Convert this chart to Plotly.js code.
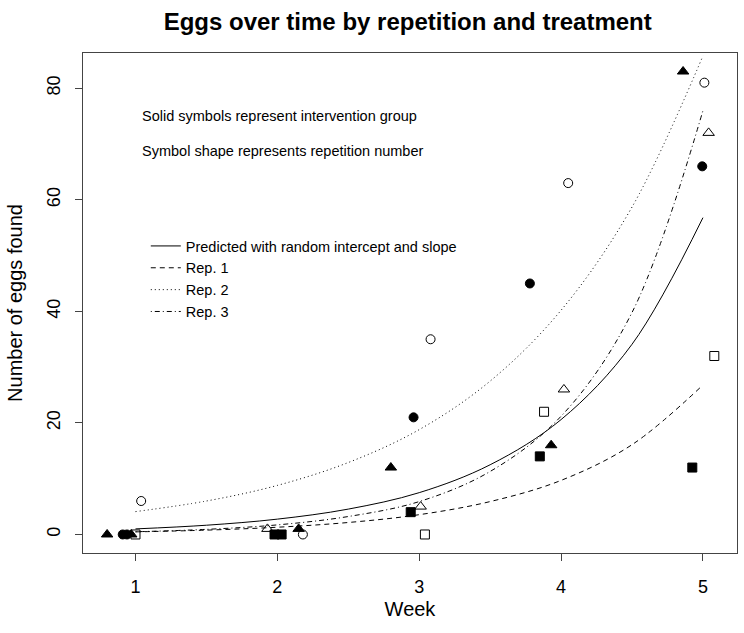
<!DOCTYPE html>
<html>
<head>
<meta charset="utf-8">
<script src="https://cdn.plot.ly/plotly-3.0.1.min.js"></script>
<style>html,body{margin:0;padding:0;background:#fff;}#chart{width:744px;height:633px;}</style>
</head>
<body>
<div id="chart"></div>
<script>
// ---- Data ----
// Rep. 1 = squares, Rep. 2 = circles, Rep. 3 = triangles; filled = intervention
const rep1CtrlWeek = [1.00, 3.04, 3.88, 5.08];
const rep1CtrlEggs = [0, 0, 22, 32];
const rep1IntWeek  = [1.98, 2.03, 2.94, 3.85, 4.925];
const rep1IntEggs  = [0, 0, 4, 14, 12];

const rep2CtrlWeek = [1.04, 2.18, 3.08, 4.05, 5.01];
const rep2CtrlEggs = [6, 0, 35, 63, 81];
const rep2IntWeek  = [0.91, 0.94, 2.96, 3.78, 4.995];
const rep2IntEggs  = [0, 0, 21, 45, 66];

const rep3CtrlWeek = [1.93, 3.01, 4.02, 5.04];
const rep3CtrlEggs = [1, 5, 26, 72];
const rep3IntWeek  = [0.80, 0.97, 2.15, 2.80, 3.93, 4.86];
const rep3IntEggs  = [0, 0, 1, 12, 16, 83];

// fitted curves, read at half-week steps
const curveWeeks    = [1, 1.5, 2, 2.5, 3, 3.5, 4, 4.5, 5];
const predictedEggs = [1.0, 1.66, 2.75, 4.55, 7.5, 12.5, 20.6, 34.1, 56.8];
const rep1Fit       = [0.47, 0.78, 1.3, 2.15, 3.55, 5.9, 9.7, 16.1, 26.8];
const rep2Fit       = [4.1, 6.0, 8.8, 12.9, 18.8, 27.5, 40.2, 58.7, 85.8];
const rep3Fit       = [0.49, 0.92, 1.72, 3.22, 5.9, 11.3, 21.2, 39.8, 76.0];

const xTicks = [1, 2, 3, 4, 5];
const yTicks = [0, 20, 40, 60, 80];

const FONT = "Liberation Sans, Arial, Helvetica, sans-serif";

function pts(x, y, symbol) {
  return {x: x, y: y, type: 'scatter', mode: 'markers', showlegend: false, hoverinfo: 'skip',
    marker: {symbol: symbol, size: symbol.indexOf('triangle') === 0 ? 10 : 9, color: '#000',
             line: {color: '#000', width: 1}}};
}
function fit(y, name, dash) {
  return {x: curveWeeks, y: y, type: 'scatter', mode: 'lines', name: name,
    line: {color: '#000', width: 1, dash: dash, shape: 'spline', smoothing: 1}};
}

const data = [
  fit(predictedEggs, 'Predicted with random intercept and slope', 'solid'),
  fit(rep1Fit, 'Rep. 1', '5px,4px'),
  fit(rep2Fit, 'Rep. 2', '1px,3px'),
  fit(rep3Fit, 'Rep. 3', '1px,3px,5px,3px'),
  pts(rep1CtrlWeek, rep1CtrlEggs, 'square-open'),
  pts(rep1IntWeek, rep1IntEggs, 'square'),
  pts(rep2CtrlWeek, rep2CtrlEggs, 'circle-open'),
  pts(rep2IntWeek, rep2IntEggs, 'circle'),
  pts(rep3CtrlWeek, rep3CtrlEggs, 'triangle-up-open'),
  pts(rep3IntWeek, rep3IntEggs, 'triangle-up')
];

const layout = {
  width: 744, height: 633,
  margin: {l: 82.5, r: 6.5, t: 53, b: 80},
  paper_bgcolor: '#fff', plot_bgcolor: '#fff',
  font: {family: FONT, color: '#000'},
  title: {text: '<b>Eggs over time by repetition and treatment</b>', font: {size: 24, family: FONT},
          x: 0.548, xanchor: 'center', y: 0.966, yanchor: 'middle'},
  xaxis: {range: [0.63, 5.24], tickvals: xTicks, ticktext: xTicks.map(String),
    ticks: 'outside', ticklen: 7, tickcolor: '#444', showgrid: false, zeroline: false,
    showline: true, mirror: true, linecolor: '#444', linewidth: 1, ticklabelstandoff: 10,
    tickfont: {size: 18}, title: {text: 'Week', font: {size: 20}, standoff: 6}},
  yaxis: {range: [-3.32, 86.32], tickvals: yTicks, ticktext: yTicks.map(String), tickangle: -90,
    ticks: 'outside', ticklen: 7, tickcolor: '#444', showgrid: false, zeroline: false,
    showline: true, mirror: true, linecolor: '#444', linewidth: 1, ticklabelstandoff: 8,
    tickfont: {size: 18}, title: {text: 'Number of eggs found', font: {size: 20}, standoff: 15}},
  legend: {x: 0.096, y: 0.646, xanchor: 'left', yanchor: 'top', bgcolor: 'rgba(0,0,0,0)',
    borderwidth: 0, font: {size: 14.5}},
  showlegend: true,
  annotations: [
    {xref: 'paper', yref: 'paper', x: 0.087, y: 0.874, xanchor: 'left', yanchor: 'middle',
     showarrow: false, text: 'Solid symbols represent intervention group', font: {size: 14.5}},
    {xref: 'paper', yref: 'paper', x: 0.087, y: 0.804, xanchor: 'left', yanchor: 'middle',
     showarrow: false, text: 'Symbol shape represents repetition number', font: {size: 14.5}}
  ]
};

Plotly.newPlot('chart', data, layout, {displayModeBar: false, staticPlot: true});
</script>
</body>
</html>
